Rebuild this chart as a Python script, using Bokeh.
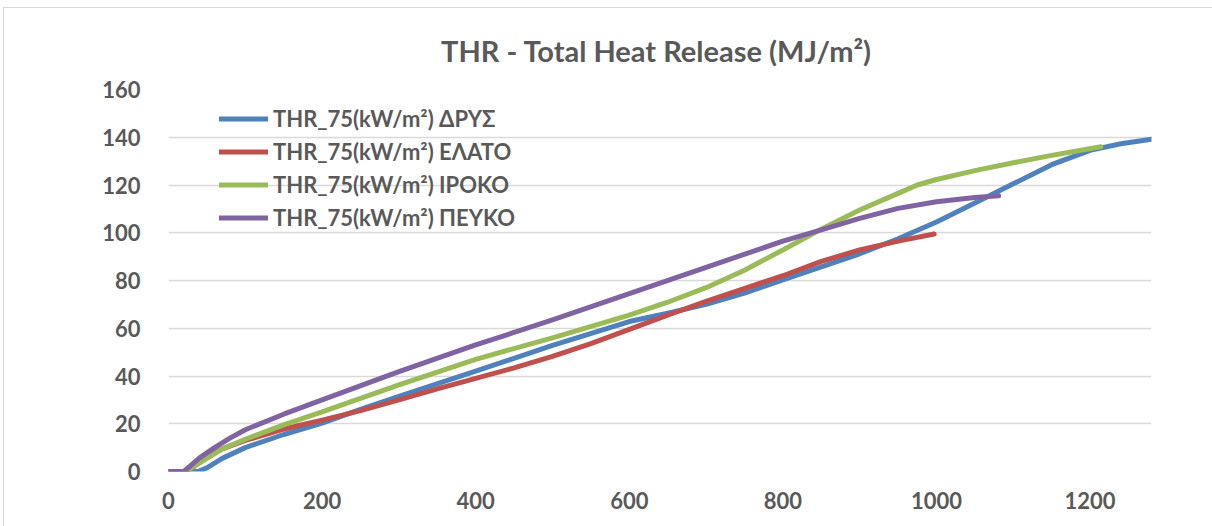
from bokeh.plotting import figure
from bokeh.models import Range1d, FixedTicker, Legend, LegendItem
from bokeh.embed import file_html
from bokeh.resources import INLINE

# ---- data ----
drys_x = [0, 38, 50, 70, 100, 150, 200, 250, 300, 400, 500, 600, 650, 700, 750, 800, 900, 950, 1000, 1050, 1100, 1150, 1200, 1240, 1280]
drys_y = [0, 0, 1.5, 5.5, 10, 15.5, 20.3, 26, 31.5, 42, 52.8, 62.8, 66.3, 70, 74.7, 80.3, 91.2, 97.5, 104.5, 112.5, 120.5, 128.5, 134.5, 137.3, 139.2]

elato_x = [0, 22, 35, 50, 70, 100, 150, 200, 250, 300, 350, 400, 450, 500, 550, 600, 650, 700, 800, 850, 900, 950, 997]
elato_y = [0, 0, 2.5, 6, 9.5, 13, 17.8, 21.5, 25.5, 30, 34.6, 39, 43.4, 48.2, 53.6, 59.5, 65.5, 71.3, 82, 88, 92.8, 96.5, 99.5]

iroko_x = [0, 22, 35, 50, 70, 100, 150, 200, 300, 400, 500, 600, 650, 700, 750, 800, 850, 900, 950, 975, 1000, 1050, 1100, 1150, 1214]
iroko_y = [0, 0, 2.5, 5.5, 9.5, 13.5, 19.5, 25, 36.3, 47, 56, 65.5, 70.9, 77, 84.3, 92.8, 101.5, 109.5, 116.5, 120, 122.3, 126, 129.3, 132.4, 136]

peyko_x = [0, 20, 30, 40, 60, 80, 100, 150, 200, 300, 400, 500, 600, 700, 800, 850, 900, 950, 1000, 1050, 1081]
peyko_y = [0, 0, 2.8, 5.6, 10, 14, 17.5, 24, 30, 41.8, 53, 63.5, 74.5, 85.5, 96.5, 101.2, 106, 110.2, 113, 114.8, 115.5]

series_names = ["THR_75(kW/m²) ΔΡΥΣ", "THR_75(kW/m²) ΕΛΑΤΟ", "THR_75(kW/m²) ΙΡΟΚΟ", "THR_75(kW/m²) ΠΕΥΚΟ"]
series_colors = ["#4F81BD", "#C0504D", "#9BBB59", "#8064A2"]
x_ticks = [0, 200, 400, 600, 800, 1000, 1200]
y_ticks = [0, 20, 40, 60, 80, 100, 120, 140, 160]
title_text = "THR - Total Heat Release  (MJ/m²)"

FONT = "Lato, 'Open Sans', sans-serif"
GRAY = "#595959"

p = figure(width=1209, height=519, output_backend="svg", toolbar_location=None,
           x_range=Range1d(0, 1280), y_range=Range1d(0, 160),
           min_border_left=164, min_border_right=62, min_border_top=80, min_border_bottom=56,
           margin=(7, 0, 0, 3))
p.styles = {"border-top": "1px solid #d9d9d9", "border-left": "1px solid #d9d9d9"}

p.title.text = title_text
p.title.align = "center"
p.title.text_font = FONT
p.title.text_font_size = "29px"
p.title.text_font_style = "bold"
p.title.text_color = GRAY
p.title.standoff = 44

p.outline_line_color = None
p.background_fill_color = "white"
p.border_fill_color = "white"

p.xgrid.visible = False
p.ygrid.grid_line_color = "#d9d9d9"
p.ygrid.grid_line_width = 1.5
p.ygrid.ticker = FixedTicker(ticks=y_ticks)

p.xaxis.ticker = FixedTicker(ticks=x_ticks)
p.yaxis.ticker = FixedTicker(ticks=y_ticks)
for ax in (p.xaxis[0], p.yaxis[0]):
    ax.major_tick_line_color = None
    ax.minor_tick_line_color = None
    ax.axis_line_color = None
    ax.major_label_text_font = FONT
    ax.major_label_text_font_size = "22px"
    ax.major_label_text_font_style = "bold"
    ax.major_label_text_color = GRAY
p.xaxis.major_label_standoff = 14
p.yaxis.major_label_standoff = 22

renderers = []
for xs, ys, c in [(drys_x, drys_y, series_colors[0]), (elato_x, elato_y, series_colors[1]),
                  (iroko_x, iroko_y, series_colors[2]), (peyko_x, peyko_y, series_colors[3])]:
    r = p.line(xs, ys, line_color=c, line_width=5, line_join="round", line_cap="round")
    renderers.append(r)

legend = Legend(items=[LegendItem(label=n, renderers=[r]) for n, r in zip(series_names, renderers)],
                location=(51, 237), orientation="vertical")
legend.background_fill_alpha = 0
legend.border_line_color = None
legend.label_text_font = FONT
legend.label_text_font_size = "22px"
legend.label_text_font_style = "bold"
legend.label_text_color = GRAY
legend.glyph_width = 49
legend.glyph_height = 33
legend.label_height = 33
legend.spacing = 0
legend.padding = 0
legend.margin = 0
legend.label_standoff = 5
p.add_layout(legend)

open("out.html", "w").write(file_html(p, INLINE))
